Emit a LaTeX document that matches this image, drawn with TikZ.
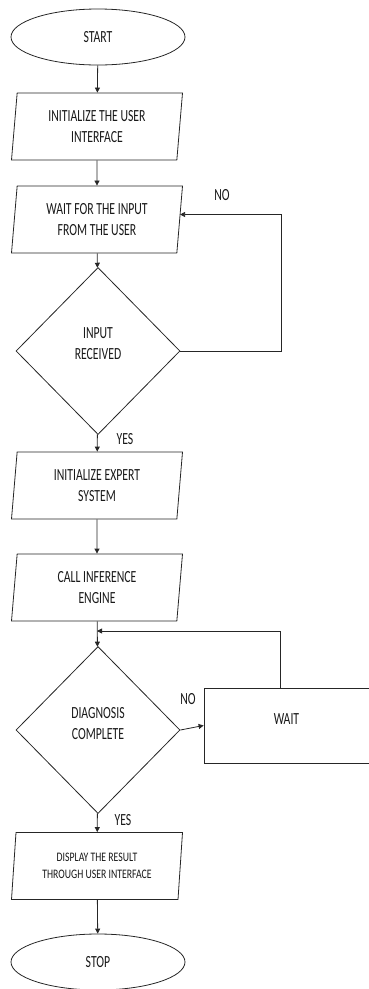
\documentclass[tikz,border=0pt]{standalone}
\usepackage{fontspec}
\setmainfont{Carlito}[FakeStretch=0.69]
\newfontfamily\smallfont{Carlito}[FakeStretch=0.75]
\usepackage{tikz}
\usetikzlibrary{shapes.geometric,arrows.meta}

\tikzset{
    line/.style={draw=black!85, line width=0.8pt},
    arr/.style={line, -{Triangle[length=5pt,width=5pt]}},
    terminal/.style={ellipse, line, minimum width=174pt, minimum height=56pt, inner sep=0pt},
    io/.style={trapezium, trapezium left angle=80, trapezium right angle=100,
        trapezium stretches body, line, minimum width=171pt, minimum height=67pt,
        inner sep=0pt, align=center},
    decision/.style={diamond, line, minimum width=164pt, minimum height=167pt,
        inner sep=0pt, align=center, text depth=14pt},
    waitbox/.style={rectangle, line, minimum width=165pt, minimum height=75pt, text depth=12pt},
    tag/.style={inner sep=0pt}
}

\begin{document}
\begin{tikzpicture}[x=1pt, y=-1pt, font=\fontsize{17}{21}\selectfont, text=black!90]
    \useasboundingbox (0,0) rectangle (368,989);

    % Main column
    \node[terminal] (start) at (98,37) {START};
    \node[io] (ui) at (97,126.5) {INITIALIZE THE USER\\INTERFACE};
    \node[io] (inp) at (97,219.5) {WAIT FOR THE INPUT\\FROM THE USER};
    \node[decision] (recv) at (98,351) {INPUT\\RECEIVED};
    \node[io] (expert) at (97,485.5) {INITIALIZE EXPERT\\SYSTEM};
    \node[io] (engine) at (97,587.5) {CALL INFERENCE\\ENGINE};
    \node[decision] (diag) at (98,730) {DIAGNOSIS\\COMPLETE};
    \node[io, font=\smallfont\fontsize{13}{17}\selectfont] (result) at (97,866)
        {DISPLAY THE RESULT\\THROUGH USER INTERFACE};
    \node[terminal] (stop) at (98,962) {STOP};

    % Side box
    \node[waitbox] (wait) at (286.5,725.5) {WAIT};

    % Labels
    \node[tag] (no1) at (222,195) {NO};
    \node[tag] (yes1) at (125,439) {YES};
    \node[tag] (no2) at (188,699) {NO};
    \node[tag] (yes2) at (123,820) {YES};

    % Loop corners
    \coordinate (c1) at (281,351);
    \coordinate (c2) at (97,631);

    % Arrows
    \draw[arr] (start) -- (ui);
    \draw[arr] (ui) -- (inp);
    \draw[arr] (inp) -- (recv);
    \draw[arr] (recv) -- (expert);
    \draw[arr] (expert) -- (engine);
    \draw[arr] (engine) -- (diag);
    \draw[arr] (diag) -- (result);
    \draw[arr] (result) -- (stop);
    \draw[arr] (recv.east) -- (c1) |- ([yshift=5pt]inp.east);
    \draw[arr] (diag.east) -- (wait.west);
    \draw[arr] ([xshift=-6pt]wait.north) |- (c2);
\end{tikzpicture}
\end{document}
